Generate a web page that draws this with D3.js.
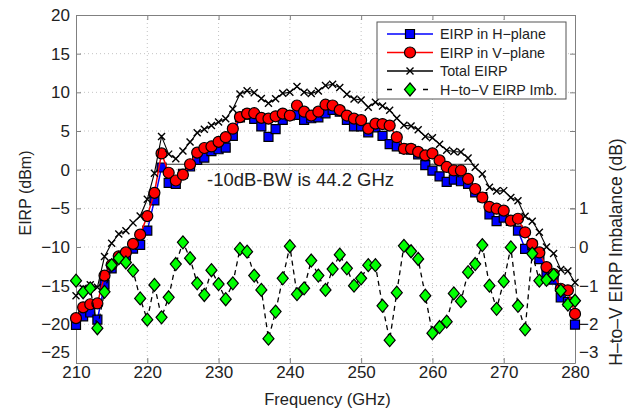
<!DOCTYPE html>
<html>
<head>
<meta charset="utf-8">
<script src="https://cdn.jsdelivr.net/npm/d3@7"></script>
<style>
  body { margin: 0; background: #fff; }
  svg { font-family: "Liberation Sans", Arial, sans-serif; }
</style>
</head>
<body>
<div id="chart"></div>
<script>
// frequency points (GHz)
var freq = [210,211,212,213,214,215,216,217,218,219,
            220,221,222,223,224,225,226,227,228,229,
            230,231,232,233,234,235,236,237,238,239,
            240,241,242,243,244,245,246,247,248,249,
            250,251,252,253,254,255,256,257,258,259,
            260,261,262,263,264,265,266,267,268,269,
            270,271,272,273,274,275,276,277,278,279,
            280];

// EIRP in H-plane (dBm)
var eirpH = [-20.07,-18.97,-18.47,-19.4,-14.86,-12.77,-11.49,-11.1,-10.21,-9.73,
             -7.88,-3.98,0.28,-1.7,-1.84,-0.53,0.41,1.26,1.56,2.4,
             2.64,2.85,4.36,6.75,7.13,6.56,5.59,4.23,5.23,6.44,
             7.02,7.08,6.43,6.65,6.76,7.29,7.73,7.5,6.45,5.6,
             5.59,4.83,5.48,4.38,3.29,3.02,2.73,2.59,1.99,0.59,
             -0.13,-0.87,-1.58,-1.3,-1.5,-1.85,-2.94,-3.55,-5.8,-6.65,
             -6.19,-6.61,-7.87,-10.23,-9.77,-11.57,-13.45,-14.22,-16.53,-17.09,
             -20.04];

// EIRP in V-plane (dBm)
var eirpV = [-19.2,-17.8,-17.4,-17.3,-13.7,-12.3,-11.2,-10.7,-9.6,-8.4,
             -6.0,-3.0,2.1,-0.4,-1.4,-0.65,0.7,2.2,2.8,3.0,
             3.6,4.2,5.3,6.8,7.25,7.3,6.7,6.6,6.9,7.25,
             7.0,8.3,7.5,7.0,7.5,8.4,8.3,7.7,7.0,6.6,
             6.4,5.3,5.95,5.9,5.7,4.2,2.7,2.7,2.3,1.85,
             2.1,1.2,0.35,-0.1,-0.1,-1.2,-2.5,-3.6,-4.8,-5.05,
             -5.3,-6.6,-6.35,-8.1,-9.6,-10.7,-12.6,-13.5,-15.4,-15.6,
             -18.65];

// total EIRP (dBm)
var eirpTotal = [-16.3,-15.33,-14.89,-15.21,-11.23,-9.52,-8.33,-7.89,-6.88,-6.0,
                 -3.83,-0.45,4.3,2.01,1.4,2.42,3.57,4.76,5.24,5.72,
                 6.16,6.59,7.86,9.79,10.2,9.96,9.19,8.58,9.16,9.87,
                 10.02,10.74,10.01,9.84,10.16,10.89,11.03,10.61,9.74,9.14,
                 9.02,8.08,8.73,8.22,7.67,6.66,5.73,5.66,5.16,4.28,
                 4.14,3.3,2.5,2.35,2.27,1.5,0.3,-0.56,-2.26,-2.77,
                 -2.71,-3.6,-4.03,-6.03,-6.67,-8.1,-9.99,-10.83,-12.92,-13.1,
                 -14.6];

// H-to-V EIRP imbalance (dB), right axis
var imbalance = [-0.87,-1.17,-1.07,-2.1,-1.16,-0.47,-0.29,-0.4,-0.61,-1.33,
                 -1.88,-0.98,-1.82,-1.3,-0.44,0.12,-0.29,-0.94,-1.24,-0.6,
                 -0.96,-1.35,-0.94,-0.05,-0.12,-0.74,-1.11,-2.37,-1.67,-0.81,
                 0.02,-1.22,-1.07,-0.35,-0.74,-1.11,-0.57,-0.2,-0.55,-1.0,
                 -0.81,-0.47,-0.47,-1.52,-2.41,-1.18,0.03,-0.11,-0.31,-1.26,
                 -2.23,-2.07,-1.93,-1.2,-1.4,-0.65,-0.44,0.05,-1.0,-1.6,
                 -0.89,-0.01,-1.52,-2.13,-0.17,-0.87,-0.85,-0.72,-1.13,-1.49,
                 -1.39];

var xTicks = [210,220,230,240,250,260,270,280];
var yTicks = [20,15,10,5,0,-5,-10,-15,-20,-25];
var yTicksRight = [-3,-2,-1,0,1];

// -10 dB bandwidth marker
var bwRange = [221.8, 266.0];
var bwLevel = 0.7;
var bwText = "-10dB-BW is 44.2 GHz";

var legendNames = ["EIRP in H\u2212plane", "EIRP in V\u2212plane", "Total EIRP", "H\u2212to\u2212V EIRP Imb."];

// set the dimensions and margins of the graph
var width = 635, height = 416;
var margin = {top: 15, right: 60, bottom: 53, left: 76};

var svg = d3.select("#chart")
  .append("svg")
  .attr("width", width)
  .attr("height", height);

var x = d3.scaleLinear().domain([210, 280]).range([margin.left, width - margin.right]);
var y = d3.scaleLinear().domain([-25, 20]).range([height - margin.bottom, margin.top]);
var y2 = d3.scaleLinear().domain([-3, 6]).range([height - margin.bottom, margin.top]);

var fmt = function(d) { return d < 0 ? "\u2212" + Math.abs(d) : "" + d; };

// dotted grid
var grid = svg.append("g").attr("stroke", "#c4c4c4").attr("stroke-dasharray", "1,3");
grid.selectAll("line.vx").data(xTicks.slice(1, -1)).enter().append("line")
  .attr("x1", x).attr("x2", x).attr("y1", y(20)).attr("y2", y(-25));
grid.selectAll("line.hy").data(yTicks.slice(1, -1)).enter().append("line")
  .attr("x1", x(210)).attr("x2", x(280)).attr("y1", y).attr("y2", y);

// axes (ticks pointing inwards, like matlab)
var axisColor = "#808080";
function styleAxis(g) {
  g.select(".domain").attr("stroke", axisColor);
  g.selectAll(".tick line").attr("stroke", axisColor);
  g.selectAll(".tick text").attr("fill", "#222").style("font-size", "17px");
}

svg.append("g")
  .attr("transform", "translate(0," + y(-25) + ")")
  .call(d3.axisBottom(x).tickValues(xTicks).tickSizeInner(-5).tickSizeOuter(0).tickPadding(2.5).tickFormat(fmt))
  .call(styleAxis);

svg.append("g")
  .attr("transform", "translate(0," + y(20) + ")")
  .call(d3.axisTop(x).tickValues(xTicks).tickSizeInner(-5).tickSizeOuter(0).tickFormat(""))
  .call(styleAxis);

var leftAxis = svg.append("g")
  .attr("transform", "translate(" + x(210) + ",0)")
  .call(d3.axisLeft(y).tickValues(yTicks).tickSizeInner(-5).tickSizeOuter(0).tickPadding(6).tickFormat(fmt))
  .call(styleAxis);
// matlab lifts the lowest label a bit
leftAxis.selectAll(".tick text").filter(function(d) { return d === -25; }).attr("dy", "-0.3em");

svg.append("g")
  .attr("transform", "translate(" + x(280) + ",0)")
  .call(d3.axisRight(y).tickValues(yTicks).tickSizeInner(-5).tickSizeOuter(0).tickFormat(""))
  .call(styleAxis);

var rightAxis = svg.append("g")
  .attr("transform", "translate(" + x(280) + ",0)")
  .call(d3.axisRight(y2).tickValues(yTicksRight).tickSizeInner(-5).tickSizeOuter(0).tickPadding(4).tickFormat(fmt))
  .call(styleAxis);
rightAxis.select(".domain").remove();
rightAxis.selectAll(".tick text").filter(function(d) { return d === -3; }).attr("dy", "-0.3em");

// axis titles
svg.append("text")
  .attr("x", (x(210) + x(280)) / 2 + 2).attr("y", 405)
  .attr("text-anchor", "middle").style("font-size", "16.5px").attr("fill", "#222")
  .text("Frequency (GHz)");

svg.append("text")
  .attr("transform", "translate(31," + 193 + ") rotate(-90)")
  .attr("text-anchor", "middle").style("font-size", "16px").attr("fill", "#222")
  .text("EIRP (dBm)");

svg.append("text")
  .attr("transform", "translate(622," + 252 + ") rotate(-90)")
  .attr("text-anchor", "middle").style("font-size", "17.5px").attr("fill", "#222")
  .text("H\u2013to\u2013V EIRP Imbalance (dB)");

// bandwidth line and text
svg.append("line")
  .attr("x1", x(bwRange[0])).attr("x2", x(bwRange[1]))
  .attr("y1", y(bwLevel)).attr("y2", y(bwLevel))
  .attr("stroke", "#333").attr("stroke-width", 1.2);

svg.append("text")
  .attr("x", 207).attr("y", 186)
  .style("font-size", "18.5px").attr("fill", "#222")
  .text(bwText);

// marker shapes
var symSquare = "M-4.5,-4.5H4.5V4.5H-4.5Z";
var symCross = "M-3.5,-3.5L3.5,3.5M-3.5,3.5L3.5,-3.5";
var symDiamond = "M0,-6.5L5.5,0L0,6.5L-5.5,0Z";

function drawSeries(values, scale, lineColor, dash, lineWidth) {
  var line = d3.line()
    .x(function(d, i) { return x(freq[i]); })
    .y(function(d) { return scale(d); });
  svg.append("path")
    .datum(values)
    .attr("d", line)
    .attr("fill", "none")
    .attr("stroke", lineColor)
    .attr("stroke-width", lineWidth)
    .attr("stroke-dasharray", dash);
  return svg.append("g").selectAll("g")
    .data(values)
    .enter()
    .append("g")
    .attr("transform", function(d, i) { return "translate(" + x(freq[i]) + "," + scale(d) + ")"; });
}

drawSeries(eirpH, y, "#0000ff", null, 1.5)
  .append("path").attr("d", symSquare).attr("fill", "#0000ff").attr("stroke", "#000").attr("stroke-width", 1.2);

drawSeries(eirpV, y, "#ff0000", null, 1.5)
  .append("circle").attr("r", 5.5).attr("fill", "#ff0000").attr("stroke", "#000").attr("stroke-width", 1.2);

drawSeries(eirpTotal, y, "#000", null, 1.1)
  .append("path").attr("d", symCross).attr("fill", "none").attr("stroke", "#000").attr("stroke-width", 1.4);

drawSeries(imbalance, y2, "#000", "5,4", 1.3)
  .append("path").attr("d", symDiamond).attr("fill", "#00ff00").attr("stroke", "#000").attr("stroke-width", 1.2);

// legend
var legend = svg.append("g");
legend.append("rect")
  .attr("x", 377).attr("y", 22).attr("width", 189).attr("height", 77)
  .attr("fill", "#fff").attr("stroke", "#555").attr("stroke-width", 1);

var legendColors = ["#0000ff", "#ff0000", "#000", "#000"];
var legendDash = [null, null, null, "5,13"];
var rowY = [34, 52.5, 71, 89.5];

legendNames.forEach(function(name, i) {
  var row = legend.append("g").attr("transform", "translate(0," + rowY[i] + ")");
  row.append("line")
    .attr("x1", 387).attr("x2", 433)
    .attr("stroke", legendColors[i]).attr("stroke-width", i < 2 ? 1.5 : 1.3)
    .attr("stroke-dasharray", legendDash[i]);
  var m = row.append("g").attr("transform", "translate(410,0)");
  if (i === 0) m.append("path").attr("d", symSquare).attr("fill", "#0000ff").attr("stroke", "#000").attr("stroke-width", 1.2);
  if (i === 1) m.append("circle").attr("r", 5.5).attr("fill", "#ff0000").attr("stroke", "#000").attr("stroke-width", 1.2);
  if (i === 2) m.append("path").attr("d", symCross).attr("stroke", "#000").attr("stroke-width", 1.4);
  if (i === 3) m.append("path").attr("d", symDiamond).attr("fill", "#00ff00").attr("stroke", "#000").attr("stroke-width", 1.2);
  row.append("text")
    .attr("x", 440).attr("y", 0).attr("dy", "0.35em")
    .style("font-size", "14.3px").attr("fill", "#222")
    .text(name);
});
</script>
</body>
</html>
